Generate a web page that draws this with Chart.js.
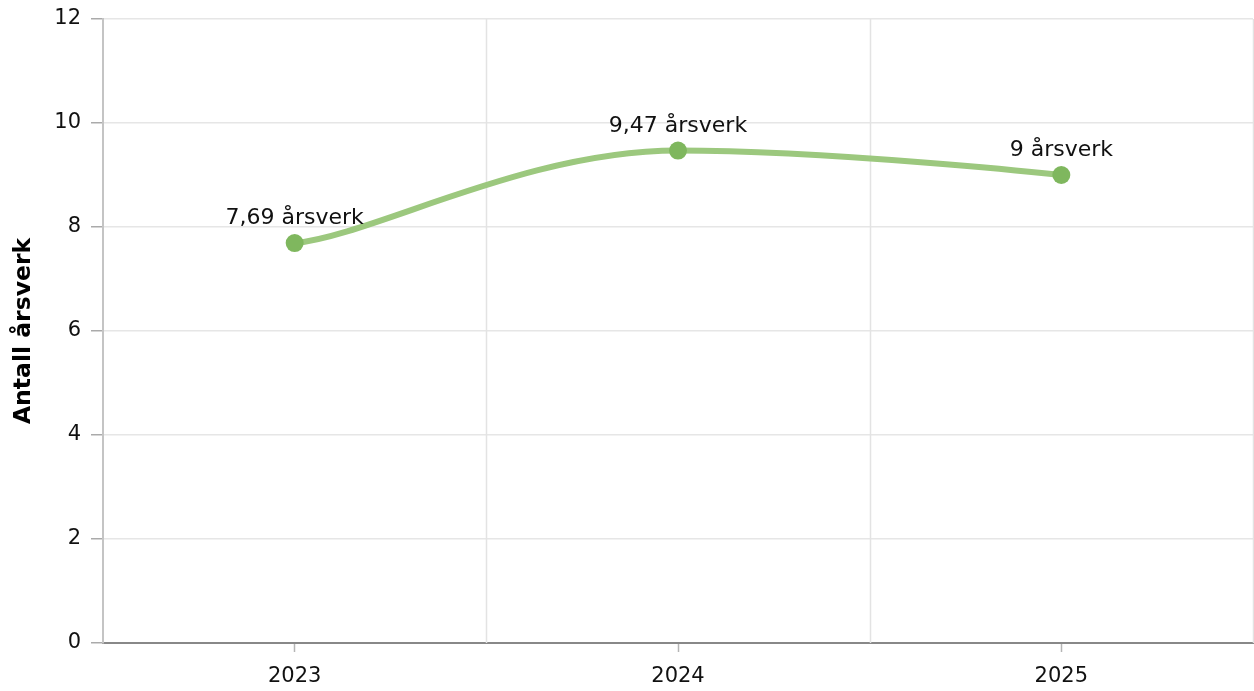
<!DOCTYPE html>
<html>
<head>
<meta charset="utf-8">
<script src="https://cdn.jsdelivr.net/npm/chart.js@4/dist/chart.umd.min.js"></script>
<style>
  body { margin: 0; background: #fff; }
  canvas { display: block; }
</style>
</head>
<body>
<canvas id="chart" width="1254" height="691"></canvas>
<script>
// data
const years = ['2023', '2024', '2025'];
const aarsverk = [7.69, 9.47, 9];
const yTickValues = [0, 2, 4, 6, 8, 10, 12];
const yTitle = 'Antall årsverk';
const unit = 'årsverk';

Chart.defaults.font.family = '"DejaVu Sans", Verdana, sans-serif';
Chart.defaults.font.size = 21;
Chart.defaults.color = '#222';

// vertical grid lines sit between the categories, tick marks on the categories
const categoryGrid = {
  id: 'categoryGrid',
  beforeDatasetsDraw(chart) {
    const x = chart.scales.x;
    const area = chart.chartArea;
    const ctx = chart.ctx;
    const half = (x.getPixelForValue(1) - x.getPixelForValue(0)) / 2;
    ctx.save();
    ctx.strokeStyle = '#e3e3e3';
    ctx.lineWidth = 1.5;
    for (let i = 0; i < years.length; i++) {
      const px = Math.round(x.getPixelForValue(i) + half) + 0.5;
      ctx.beginPath();
      ctx.moveTo(px, area.top);
      ctx.lineTo(px, area.bottom);
      ctx.stroke();
    }
    ctx.restore();
  }
};

// spline like the original: flat at peaks, soft start
const splineSmoothing = {
  id: 'splineSmoothing',
  beforeDatasetDraw(chart, args) {
    const meta = args.meta;
    meta.dataset.updateControlPoints(chart.chartArea, 'x');
    const pts = meta.data;
    const s = 1.5;
    pts.forEach((p, i) => {
      p.cp1x = p.x; p.cp1y = p.y;
      p.cp2x = p.x; p.cp2y = p.y;
      if (i === 0 || i === pts.length - 1) return;
      const prev = pts[i - 1], next = pts[i + 1];
      const lx = (s * p.x + prev.x) / (s + 1);
      let ly = (s * p.y + prev.y) / (s + 1);
      const rx = (s * p.x + next.x) / (s + 1);
      let ry = (s * p.y + next.y) / (s + 1);
      if (rx !== lx) {
        const corr = ((ry - ly) * (rx - p.x)) / (rx - lx) + p.y - ry;
        ly += corr; ry += corr;
      }
      if (ly > prev.y && ly > p.y) { ly = Math.max(prev.y, p.y); ry = 2 * p.y - ly; }
      else if (ly < prev.y && ly < p.y) { ly = Math.min(prev.y, p.y); ry = 2 * p.y - ly; }
      if (ry > next.y && ry > p.y) { ry = Math.max(next.y, p.y); ly = 2 * p.y - ry; }
      else if (ry < next.y && ry < p.y) { ry = Math.min(next.y, p.y); ly = 2 * p.y - ry; }
      p.cp1x = lx; p.cp1y = ly;
      p.cp2x = rx; p.cp2y = ry;
    });
    // first point leaves almost flat
    if (pts.length > 1) {
      const a = pts[0], b = pts[1];
      a.cp2x = a.x + (b.x - a.x) * 0.21;
      a.cp2y = a.y + (b.y - a.y) * 0.09;
    }
  }
};

// text above every point
const pointLabels = {
  id: 'pointLabels',
  afterDatasetsDraw(chart) {
    const ctx = chart.ctx;
    const meta = chart.getDatasetMeta(0);
    ctx.save();
    ctx.font = '22px "DejaVu Sans", Verdana, sans-serif';
    ctx.fillStyle = '#111';
    ctx.textAlign = 'center';
    ctx.textBaseline = 'alphabetic';
    meta.data.forEach((pt, i) => {
      const txt = String(aarsverk[i]).replace('.', ',') + ' ' + unit;
      ctx.fillText(txt, pt.x, pt.y - 19);
    });
    ctx.restore();
  }
};

new Chart(document.getElementById('chart'), {
  type: 'line',
  data: {
    labels: years,
    datasets: [{
      data: aarsverk,
      borderColor: '#9cc87e',
      borderWidth: 6,
      pointBackgroundColor: '#7fb75e',
      pointBorderWidth: 0,
      pointRadius: 9,
      tension: 0.4,
      fill: false
    }]
  },
  options: {
    responsive: false,
    animation: false,
    layout: { autoPadding: false, padding: { top: 19, right: 1, left: 0, bottom: 0 } },
    plugins: { legend: { display: false }, tooltip: { enabled: false } },
    scales: {
      x: {
        offset: true,
        grid: { drawOnChartArea: false, offset: false, tickLength: 9, tickColor: '#b5b5b5', tickWidth: 1.5 },
        border: { color: '#888', width: 2 },
        ticks: { padding: 12, color: '#111' },
        afterFit(scale) { scale.height = 48; }
      },
      y: {
        min: yTickValues[0],
        max: yTickValues[yTickValues.length - 1],
        afterBuildTicks(scale) { scale.ticks = yTickValues.map(v => ({ value: v })); },
        grid: { color: '#e6e6e6', lineWidth: 1.5, tickLength: 12, tickColor: '#aaa' },
        border: { color: '#c4c4c4', width: 2 },
        ticks: { padding: 10, color: '#111' },
        title: {
          display: true,
          text: yTitle,
          color: '#000',
          font: { size: 23.5, weight: 'bold' },
          padding: { top: 10, bottom: 0 }
        },
        afterFit(scale) {
          scale.width = 103;
          scale.paddingTop = 0;
          scale.paddingBottom = 0;
        }
      }
    }
  },
  plugins: [categoryGrid, splineSmoothing, pointLabels]
});
</script>
</body>
</html>
